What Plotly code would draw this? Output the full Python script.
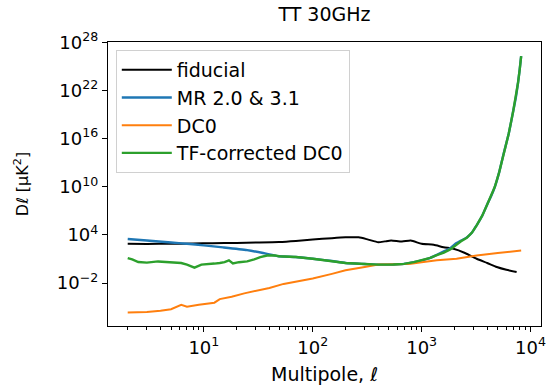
import plotly.graph_objects as go

# Angular power spectra, TT at 30 GHz
ell_fid = [2, 3, 5, 8, 12, 20, 30, 49, 70, 100, 150, 200, 264, 323, 400, 460, 525,
           660, 795, 1000, 1290, 1590, 1960, 2500, 3200, 4000, 4900, 6000, 7450]
dl_fid = [780, 760, 790, 850, 930, 1000, 1120, 1320, 1780, 2630, 3980, 5010, 5010,
          2630, 1230, 1580, 2000, 1480, 2000, 780, 590, 295, 186, 56, 10.7, 3.2,
          1.0, 0.45, 0.24]

ell_mr = [2, 3, 5, 7, 10, 15, 25, 35, 49, 70, 100, 150, 200, 300, 400, 550, 690,
          850, 1000, 1200, 1380, 1600, 1830, 2090, 2300, 2600, 2900, 3200, 3600,
          4000, 4350, 4700, 5150, 5630, 6300, 6940, 7300, 7680, 7950, 8200]
dl_mr = [3160, 2000, 1120, 794, 501, 282, 126, 56, 22, 17.8, 10.7, 5.6, 3.2, 2.4,
         2.0, 2.1, 2.5, 4.0, 6.8, 14.1, 34, 89, 224, 1000, 2000, 5000, 2e4, 1.6e5,
         2.5e6, 6.3e7, 7e8, 1e10, 6.3e11, 1e14, 4e16, 3e19, 1e21, 1e23, 4e24, 2e26]

ell_dc0 = [2, 3, 4, 5, 6.2, 7, 9, 12.5, 14, 18, 23.5, 30, 40, 54, 70, 100, 150,
           200, 300, 400, 600, 795, 1000, 1380, 2090, 3200, 5000, 8200]
dl_dc0 = [2.1e-6, 2.5e-6, 3.5e-6, 5.5e-6, 1.9e-5, 1.1e-5, 2.0e-5, 3.6e-5, 1e-4,
          2e-4, 5.2e-4, 1.1e-3, 2.5e-3, 7.9e-3, 1.6e-2, 3.7e-2, 0.14, 0.39, 1.0,
          2.0, 2.2, 2.5, 4.0, 6.8, 10.7, 27.5, 56, 115]

ell_tf = [2, 2.2, 2.5, 3, 3.8, 4.5, 5.2, 6.2, 7, 8.2, 9.5, 11, 12.5, 14, 15.5, 17,
          18.5, 21, 25, 29, 33, 38, 45, 49, 70, 100, 150, 200, 300, 400, 550, 690,
          850, 1000, 1200, 1380, 1600, 1830, 2090, 2300, 2600, 2900, 3200, 3600,
          4000, 4350, 4700, 5150, 5630, 6300, 6940, 7300, 7680, 7950, 8200]
dl_tf = [12.9, 8.9, 4.2, 3.5, 5.0, 4.0, 3.5, 3.2, 2.0, 0.85, 2.0, 2.2, 2.7, 3.2,
         4.0, 6.8, 2.8, 4.0, 5.0, 8.9, 17, 27.5, 28, 22, 17.8, 10.7, 5.6, 3.2, 2.4,
         2.0, 2.1, 2.5, 4.0, 6.8, 14.1, 30, 63, 158, 710, 1600, 4500, 2e4, 1.6e5,
         2.5e6, 6.3e7, 7e8, 1e10, 6.3e11, 1e14, 4e16, 3e19, 1e21, 1e23, 4e24, 2e26]

x_ticks = [10, 100, 1000, 10000]
x_ticktext = ["10<sup>1</sup>", "10<sup>2</sup>", "10<sup>3</sup>", "10<sup>4</sup>"]
y_ticks = [1e-2, 1e4, 1e10, 1e16, 1e22, 1e28]
y_ticktext = ["10<sup>\u22122</sup>", "10<sup>4</sup>", "10<sup>10</sup>",
              "10<sup>16</sup>", "10<sup>22</sup>", "10<sup>28</sup>"]

x_minor = [m * 10 ** k for k in range(0, 4) for m in range(2, 10)]

fig = go.Figure()
fig.add_trace(go.Scatter(x=ell_fid, y=dl_fid, mode="lines", name="fiducial",
                         line=dict(color="black", width=2, shape="spline",
                                   smoothing=0.6)))
fig.add_trace(go.Scatter(x=ell_mr, y=dl_mr, mode="lines", name="MR 2.0 & 3.1",
                         line=dict(color="#1f77b4", width=2.4, shape="spline",
                                   smoothing=0.6)))
fig.add_trace(go.Scatter(x=ell_dc0, y=dl_dc0, mode="lines", name="DC0",
                         line=dict(color="#ff7f0e", width=2)))
fig.add_trace(go.Scatter(x=ell_tf, y=dl_tf, mode="lines", name="TF-corrected DC0",
                         line=dict(color="#2ca02c", width=2.4)))

font = "DejaVu Sans"
fig.update_layout(
    width=553, height=389,
    margin=dict(l=108, r=7, t=42, b=63),
    paper_bgcolor="white", plot_bgcolor="white",
    font=dict(family=font, size=17, color="black"),
    title=dict(text="TT 30GHz", x=0.5, xref="paper", xanchor="center",
               y=1, yref="container", yanchor="top", pad=dict(t=8),
               font=dict(size=19)),
    showlegend=True,
    legend=dict(x=0.018, y=0.972, xanchor="left", yanchor="top",
                bgcolor="white", bordercolor="#d0d0d0", borderwidth=1,
                font=dict(size=19), tracegroupgap=0, itemwidth=50),
)
fig.update_xaxes(
    type="log", range=[0.12, 4.096],
    tickvals=x_ticks, ticktext=x_ticktext, tickfont=dict(size=18),
    ticks="outside", ticklen=5, tickwidth=1, tickcolor="black",
    minor=dict(tickvals=x_minor, ticks="outside", ticklen=3, tickwidth=1,
               tickcolor="black"),
    showline=True, linecolor="black", linewidth=1.2, mirror=True,
    showgrid=False, zeroline=False,
    title=dict(text="Multipole, \u2113", standoff=10, font=dict(size=19)),
)
fig.update_yaxes(
    type="log", range=[-7.35, 28.05],
    tickvals=y_ticks, ticktext=y_ticktext, tickfont=dict(size=18),
    ticks="outside", ticklen=5, tickwidth=1, tickcolor="black",
    showline=True, linecolor="black", linewidth=1.2, mirror=True,
    showgrid=False, zeroline=False,
    title=dict(text="D\u2113 [\u03bcK<sup>2</sup>]", standoff=24, font=dict(size=16)),
)

fig.write_html("out.html")
